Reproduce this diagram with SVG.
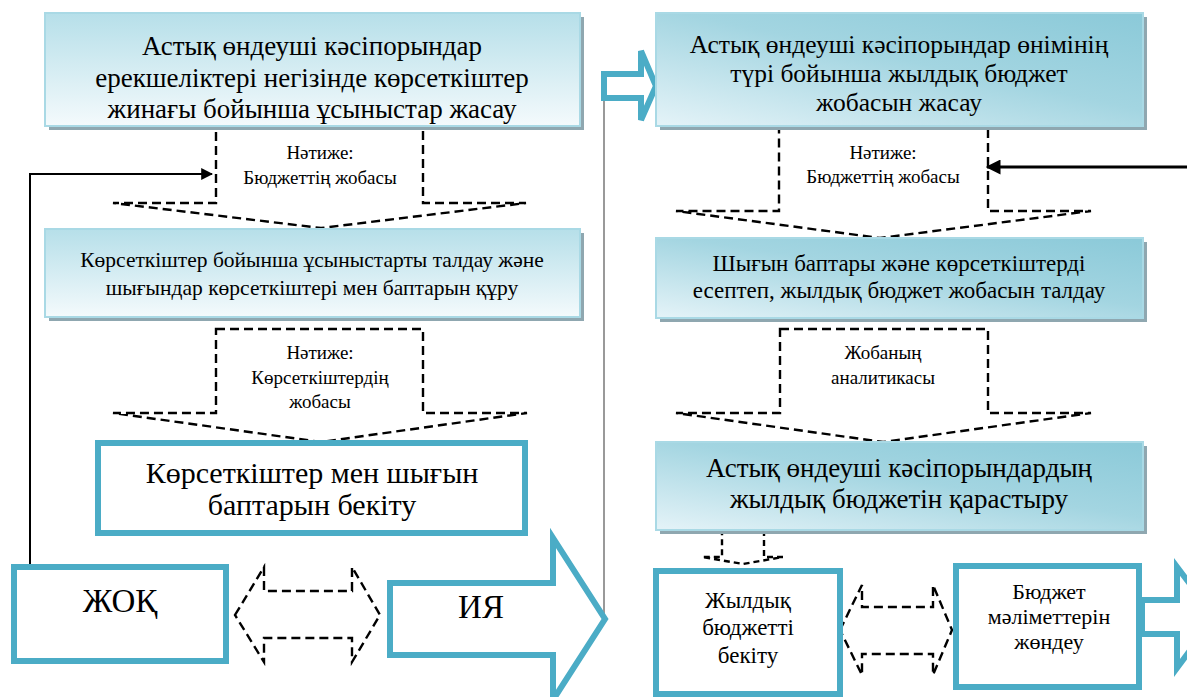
<svg xmlns="http://www.w3.org/2000/svg" width="1187" height="697" viewBox="0 0 1187 697">
  <defs>
    <linearGradient id="gradLeft" x1="0" y1="0" x2="0" y2="1">
      <stop offset="0" stop-color="#b6dfe9"/>
      <stop offset="1" stop-color="#f4fafc"/>
    </linearGradient>
    <linearGradient id="gradRight" x1="0.05" y1="1" x2="0.95" y2="0">
      <stop offset="0" stop-color="#e2f2f7"/>
      <stop offset="0.55" stop-color="#a3d5e1"/>
      <stop offset="1" stop-color="#8ccad9"/>
    </linearGradient>
    <marker id="arrowHead" viewBox="0 0 10 10" refX="9" refY="5" markerWidth="6" markerHeight="6" markerUnits="strokeWidth" orient="auto">
      <path d="M0,0 L10,5 L0,10 z" fill="#000"/>
    </marker>
    <marker id="arrowHeadSmall" viewBox="0 0 10 10" refX="9" refY="5" markerWidth="5" markerHeight="5" markerUnits="strokeWidth" orient="auto">
      <path d="M0,0 L10,5 L0,10 z" fill="#000"/>
    </marker>
  </defs>
  <style>
    text { font-family: "Liberation Serif", "Times New Roman", serif; fill: #000; text-anchor: middle; }
    .shadow { fill: #8fa7b0; }
    .boxL { fill: url(#gradLeft); stroke: #a9d9e5; stroke-width: 2; }
    .boxR { fill: url(#gradRight); stroke: #a9d9e5; stroke-width: 2; }
    .outline { fill: #fff; stroke: #4bacc6; stroke-width: 6; }
    .dash { fill: #fff; stroke: #000; stroke-width: 2.4; stroke-dasharray: 9 5; }
    .dashSmall { fill: #fff; stroke: #000; stroke-width: 2.4; stroke-dasharray: 6 4; }
    .feed { fill: none; stroke: #000; }
    .note { font-size: 19px; }
    .tA { font-size: 27px; }
    .tB { font-size: 21.5px; }
    .tC { font-size: 30px; }
    .tD { font-size: 25.5px; }
    .tE { font-size: 23px; }
    .tF { font-size: 27px; }
    .tG { font-size: 23px; }
    .tH { font-size: 22px; }
    .tBig { font-size: 33px; }
  </style>

  <!-- connectors: dashed result arrows, feedback lines, block arrows -->
  <g id="connectors">
    <polygon class="dash" points="216,128 423,128 423,203 526,203 321,228 113,203 216,203"/>
    <polygon class="dash" points="216,329 423,329 423,413 527,413 321,442 113,413 216,413"/>
    <polygon class="dash" points="779,128 988,128 988,211 1091,211 880,238 676,211 779,211"/>
    <polygon class="dash" points="780,329 988,329 988,413 1091,413 883,442 676,413 780,413"/>
    <polygon class="dashSmall" points="722,532 764,532 764,557 783,557 743,564 702,557 722,557"/>

    <polygon class="dash" points="235,615 264,567 264,591 352,591 352,567 380,615 352,662 352,638 264,638 264,662"/>
    <polygon class="dash" points="840,630 862,585 862,607 933,607 933,585 952,630 933,675 933,654 862,654 862,675"/>

    <polyline class="feed" stroke-width="2" points="30,564 30,174 212,174" marker-end="url(#arrowHead)"/>
    <line class="feed" stroke-width="3" x1="1187" y1="167" x2="987" y2="167" marker-end="url(#arrowHeadSmall)"/>
    <line x1="604" y1="100" x2="604" y2="615" stroke="#555" stroke-width="1.2"/>

    <polygon class="outline" points="604,74 641,74 641,51 656,86 641,120 641,98 604,98"/>
    <polygon class="outline" points="390,583 553,583 553,538 605,619 553,700 553,655 390,655"/>
    <polygon class="outline" points="1142,600 1177,600 1177,567 1215,617 1177,668 1177,634 1142,634"/>
  </g>

  <!-- left column -->
  <g id="proposals">
    <rect class="shadow" x="49" y="17" width="535" height="113"/>
    <rect class="boxL" x="45" y="13" width="535" height="113"/>
    <text class="tA" x="312" y="55">Астық өндеуші кәсіпорындар</text>
    <text class="tA" x="312" y="87">ерекшеліктері негізінде көрсеткіштер</text>
    <text class="tA" x="312" y="118">жинағы бойынша ұсыныстар жасау</text>
  </g>
  <g id="result1">
    <text class="note" x="320" y="159">Нәтиже:</text>
    <text class="note" x="320" y="184">Бюджеттің жобасы</text>
  </g>
  <g id="analysis">
    <rect class="shadow" x="49" y="233" width="535" height="88"/>
    <rect class="boxL" x="45" y="229" width="535" height="88"/>
    <text class="tB" x="312" y="267">Көрсеткіштер бойынша ұсыныстарты талдау және</text>
    <text class="tB" x="312" y="295">шығындар көрсеткіштері мен баптарын құру</text>
  </g>
  <g id="result2">
    <text class="note" x="320" y="359">Нәтиже:</text>
    <text class="note" x="320" y="384">Көрсеткіштердің</text>
    <text class="note" x="320" y="408">жобасы</text>
  </g>
  <g id="approve">
    <rect class="outline" x="98" y="443" width="427" height="90"/>
    <text class="tC" x="312" y="483">Көрсеткіштер мен шығын</text>
    <text class="tC" x="312" y="515">баптарын бекіту</text>
  </g>
  <g id="no">
    <rect class="outline" x="14" y="567" width="212" height="94"/>
    <text class="tBig" x="120" y="612">ЖОҚ</text>
  </g>
  <g id="yes">
    <text class="tBig" x="481" y="618">ИЯ</text>
  </g>

  <!-- right column -->
  <g id="draft">
    <rect class="shadow" x="660" y="17" width="487" height="113"/>
    <rect class="boxR" x="656" y="13" width="487" height="113"/>
    <text class="tD" x="899" y="53">Астық өндеуші кәсіпорындар өнімінің</text>
    <text class="tD" x="899" y="82">түрі бойынша жылдық бюджет</text>
    <text class="tD" x="899" y="111">жобасын жасау</text>
  </g>
  <g id="result3">
    <text class="note" x="883" y="159">Нәтиже:</text>
    <text class="note" x="883" y="183">Бюджеттің жобасы</text>
  </g>
  <g id="calc">
    <rect class="shadow" x="660" y="242" width="487" height="80"/>
    <rect class="boxR" x="656" y="238" width="487" height="80"/>
    <text class="tE" x="899" y="271">Шығын баптары және көрсеткіштерді</text>
    <text class="tE" x="899" y="298">есептеп, жылдық бюджет жобасын талдау</text>
  </g>
  <g id="analytics">
    <text class="note" x="883" y="359">Жобаның</text>
    <text class="note" x="883" y="384">аналитикасы</text>
  </g>
  <g id="review">
    <rect class="shadow" x="660" y="446" width="487" height="88"/>
    <rect class="boxR" x="656" y="442" width="487" height="88"/>
    <text class="tF" x="899" y="477">Астық өндеуші кәсіпорындардың</text>
    <text class="tF" x="899" y="508">жылдық бюджетін қарастыру</text>
  </g>
  <g id="approveBudget">
    <rect class="outline" x="656" y="571" width="184" height="123"/>
    <text class="tG" x="748" y="608">Жылдық</text>
    <text class="tG" x="748" y="635">бюджетті</text>
    <text class="tG" x="748" y="663">бекіту</text>
  </g>
  <g id="adjust">
    <rect class="outline" x="956" y="566" width="183" height="121"/>
    <text class="tH" x="1049" y="599">Бюджет</text>
    <text class="tH" x="1049" y="624">мәліметтерін</text>
    <text class="tH" x="1049" y="649">жөндеу</text>
  </g>
</svg>
